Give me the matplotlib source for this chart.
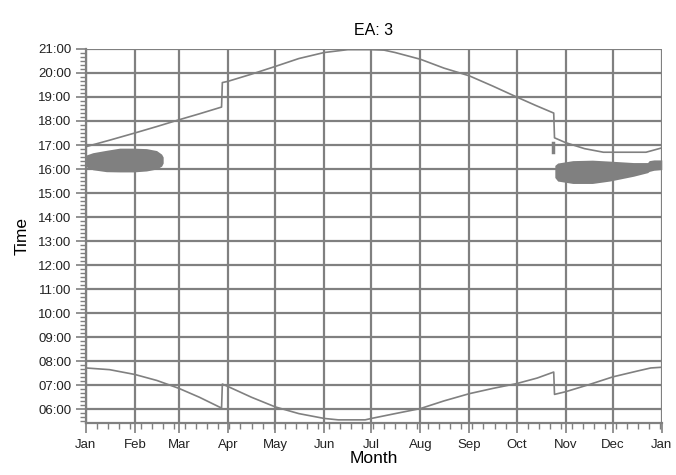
import matplotlib.pyplot as plt
from matplotlib.ticker import FixedLocator, MultipleLocator, FuncFormatter

plt.rcParams['font.family'] = ['Liberation Sans', 'DejaVu Sans']

# day-of-year positions of month starts (last one = next Jan)
month_days = [0, 31, 59, 90, 120, 151, 181, 212, 243, 273, 304, 334, 365]
month_labels = ["Jan", "Feb", "Mar", "Apr", "May", "Jun", "Jul",
                "Aug", "Sep", "Oct", "Nov", "Dec", "Jan"]

# upper line (sunset-like), hours
upper_days = [0, 15, 31, 45, 59, 72, 86, 86.5, 90, 105, 120, 135, 151, 166,
              180, 189, 196, 212, 227, 243, 258, 273, 285, 296.5, 297, 304,
              316, 328, 355, 365]
upper_vals = [16.93, 17.20, 17.50, 17.77, 18.05, 18.30, 18.58, 19.60, 19.65,
              19.95, 20.27, 20.60, 20.85, 20.97, 20.97, 20.95, 20.85, 20.57,
              20.20, 19.88, 19.45, 19.00, 18.65, 18.33, 17.30, 17.10, 16.85,
              16.70, 16.70, 16.88]

# lower line (sunrise-like), hours
lower_days = [0, 15, 31, 45, 59, 72, 86, 86.5, 90, 105, 120, 135, 151, 160,
              177, 181, 196, 212, 227, 243, 258, 273, 286, 296.5, 297, 304,
              319, 334, 350, 358, 365]
lower_vals = [7.72, 7.65, 7.45, 7.20, 6.87, 6.50, 6.05, 7.05, 6.95, 6.50,
              6.10, 5.82, 5.62, 5.56, 5.56, 5.62, 5.82, 6.03, 6.35, 6.65,
              6.87, 7.07, 7.30, 7.55, 6.62, 6.73, 7.03, 7.35, 7.60, 7.72, 7.75]

# small stray mark near end of October
mark_days = [295.8, 295.8]
mark_vals = [16.72, 17.08]

# shaded region Jan-Feb
blobA_days = [0, 4.4, 13, 21.5, 30, 38.4, 44.8, 48, 49]
blobA_low = [16.10, 15.97, 15.89, 15.88, 15.88, 15.92, 16.00, 16.12, 16.25]
blobA_high = [16.58, 16.68, 16.78, 16.87, 16.87, 16.85, 16.77, 16.62, 16.50]

# shaded region Nov-Dec
blobB_days = [297.2, 299, 308.6, 321, 332, 347, 356, 357, 360, 365]
blobB_low = [15.65, 15.50, 15.40, 15.40, 15.50, 15.70, 15.85, 15.90, 15.95, 15.98]
blobB_high = [16.15, 16.25, 16.35, 16.37, 16.33, 16.27, 16.27, 16.35, 16.38, 16.38]

grey = "#808080"

fig = plt.figure(figsize=(6.76, 4.75), dpi=100)
ax = fig.add_axes([0.127, 0.109, 0.852, 0.788])

ax.fill_between(blobA_days, blobA_low, blobA_high, color=grey, lw=0, zorder=3)
ax.fill_between(blobB_days, blobB_low, blobB_high, color=grey, lw=0, zorder=3)
ax.plot(upper_days, upper_vals, color=grey, lw=1.2, zorder=3)
ax.plot(lower_days, lower_vals, color=grey, lw=1.2, zorder=3)
ax.plot(mark_days, mark_vals, color=grey, lw=2.5, zorder=3)

ax.set_xlim(0, 365)
ax.set_ylim(5.42, 21)

ax.set_xticks(month_days)
ax.set_xticklabels(month_labels)
ax.xaxis.set_minor_locator(MultipleLocator(7))

ax.yaxis.set_major_locator(FixedLocator(list(range(6, 22))))
ax.yaxis.set_minor_locator(MultipleLocator(1 / 6))
ax.yaxis.set_major_formatter(FuncFormatter(lambda v, p: "%02d:00" % int(round(v))))

ax.grid(True, which="major", color=grey, lw=1.6)
ax.set_axisbelow(True)
for s in ["top", "right"]:
    ax.spines[s].set_visible(False)
for s in ["left", "bottom"]:
    ax.spines[s].set_color(grey)
    ax.spines[s].set_linewidth(1.6)

ax.tick_params(which="major", length=7, width=1.2, color=grey,
               labelsize=9.5, labelcolor="#222222")
ax.tick_params(which="minor", length=4, width=1.0, color=grey)
ax.tick_params(axis="x", pad=4)

ax.set_title("EA: 3", fontsize=11.5, pad=10)
ax.set_xlabel("Month", fontsize=12.5, labelpad=0)
ax.set_ylabel("Time", fontsize=12.5, labelpad=6)

fig.savefig("out.png", dpi=100)
